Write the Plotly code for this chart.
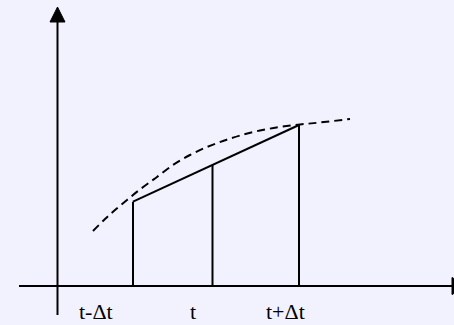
import plotly.graph_objects as go

# Abscissae of the three sample instants (origin at the axes' crossing)
tick_x = [75.5, 155.0, 241.5]
tick_labels = ["t-\u0394t", "t", "t+\u0394t"]

# Function values at t-Δt and t+Δt; the chord joins them
chord_y = [84.3, 161.0]

# Sketch of the underlying curve (dashed)
curve_x = [35.5, 47.5, 57.5, 69.5, 80.5, 92.5, 99.5, 115.5, 132.5, 149.5,
           165.5, 182.5, 202.5, 222.5, 242.5, 262.5, 292.5]
curve_y = [55, 67, 76, 86, 95, 104, 109, 121, 131, 139,
           145, 150.5, 155.5, 159, 161.5, 163.5, 167]

BG = "#F2F2FE"
INK = "#000000"

fig = go.Figure()


def seg(xs, ys, width=2, dash="solid", shape="linear"):
    fig.add_trace(go.Scatter(x=xs, y=ys, mode="lines",
                             line=dict(color=INK, width=width, dash=dash,
                                       shape=shape),
                             hoverinfo="skip", showlegend=False))


def tri(xs, ys):
    fig.add_trace(go.Scatter(x=xs, y=ys, mode="lines", fill="toself",
                             fillcolor=INK, line=dict(color=INK, width=1),
                             hoverinfo="skip", showlegend=False))


# Axes with arrowheads
seg([-38.5, 394.5], [0, 0])
tri([394.5, 394.5, 409.5, 394.5], [8.5, -8.5, 0, 8.5])
seg([0, 0], [-29, 264])
tri([-7.5, 7.5, 0, -7.5], [264, 264, 279, 264])

# Dashed curve
seg(curve_x, curve_y, width=2, dash="8px,5px", shape="spline")

# Chord between t-Δt and t+Δt
seg([tick_x[0], tick_x[2]], chord_y)

# Ordinates at the three instants, up to the chord
slope = (chord_y[1] - chord_y[0]) / (tick_x[2] - tick_x[0])
for x in tick_x:
    seg([x, x], [0, chord_y[0] + slope * (x - tick_x[0])])

# Tick labels under the horizontal axis, boxes resting on the bottom edge
label_shift = [-37.5, -19.8, -13.2]
for x, s, lab in zip(tick_x, label_shift, tick_labels):
    fig.add_annotation(x=x + s, y=-39, text=lab, showarrow=False,
                       xanchor="center", yanchor="bottom", borderpad=0,
                       font=dict(family="Liberation Serif", size=22, color=INK))

fig.update_layout(
    width=454, height=325,
    margin=dict(l=0, r=0, t=0, b=0),
    paper_bgcolor=BG, plot_bgcolor=BG,
    xaxis=dict(range=[-57.5, 396.5], visible=False, fixedrange=True),
    yaxis=dict(range=[-39, 286], visible=False, fixedrange=True),
)

fig.write_html("out.html")
